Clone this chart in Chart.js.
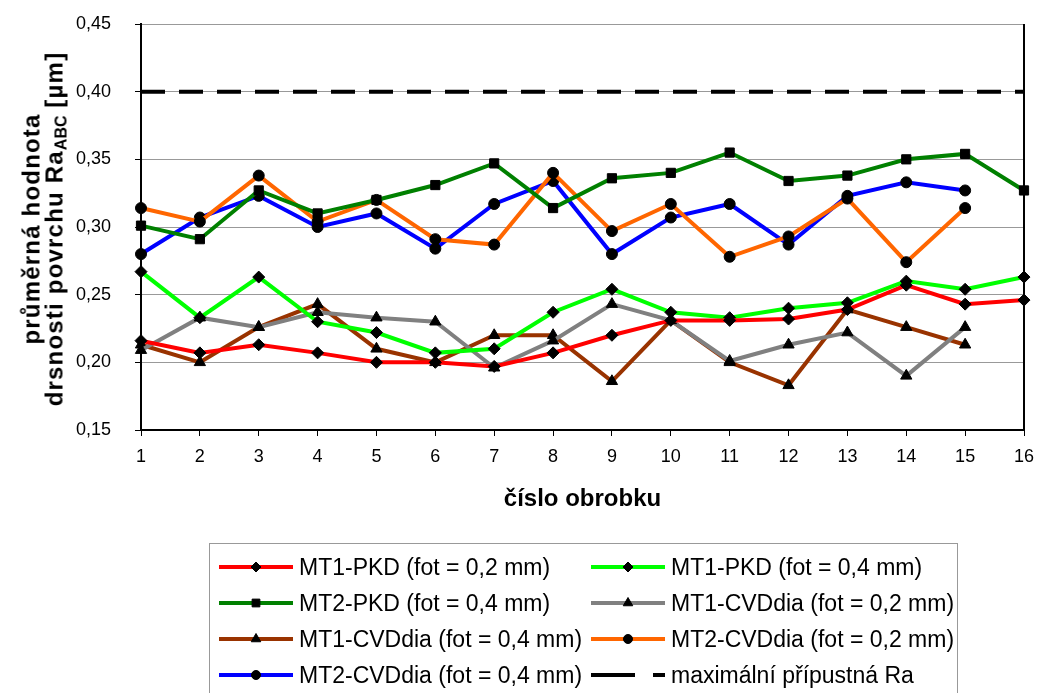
<!DOCTYPE html>
<html>
<head>
<meta charset="utf-8">
<script src="https://cdn.jsdelivr.net/npm/chart.js@4.4.1/dist/chart.umd.min.js"></script>
<style>
  html, body { margin: 0; padding: 0; background: #fff; }
  #wrap { position: relative; width: 1041px; height: 693px; overflow: hidden; font-family: "Liberation Sans", Arial, sans-serif; }
  #chart { position: absolute; left: 0; top: 0; }
  #ytitle {
    position: absolute; left: 46px; top: 229px; width: 480px;
    transform: translate(-50%, -50%) rotate(-90deg);
    text-align: center; font-weight: bold; font-size: 24px; line-height: 23px;
    letter-spacing: 1.2px; color: #000;
  }
  #ytitle sub { font-size: 16px; vertical-align: -4px; letter-spacing: 0; }
  #legend {
    position: absolute; left: 209px; top: 543px; width: 749px; height: 152px;
    border: 1px solid #999; box-sizing: border-box; padding: 5px 0 0 8px;
    display: grid; grid-template-columns: 372px 372px; grid-auto-rows: 36px;
  }
  .item { display: flex; align-items: center; font-size: 23px; color: #000; white-space: nowrap; }
  .item canvas { margin-right: 5px; }
</style>
</head>
<body>
<div id="wrap">
  <canvas id="chart" width="1041" height="693"></canvas>
  <div id="ytitle">průměrná hodnota<br>drsnosti povrchu Ra<sub>ABC</sub> [µm]</div>
  <div id="legend"></div>
</div>
<script>
const labels = ["1", "2", "3", "4", "5", "6", "7", "8", "9", "10", "11", "12", "13", "14", "15", "16"];
const yTicks = [0.15, 0.20, 0.25, 0.30, 0.35, 0.40, 0.45];

const mt1Pkd02 = [0.216, 0.207, 0.213, 0.207, 0.200, 0.200, 0.197, 0.207, 0.220, 0.231, 0.231, 0.232, 0.239, 0.257, 0.243, 0.246];
const mt1Pkd04 = [0.267, 0.233, 0.263, 0.230, 0.222, 0.207, 0.210, 0.237, 0.254, 0.237, 0.233, 0.240, 0.244, 0.260, 0.254, 0.263];
const mt2Pkd04 = [0.301, 0.291, 0.327, 0.310, 0.320, 0.331, 0.347, 0.314, 0.336, 0.340, 0.355, 0.334, 0.338, 0.350, 0.354, 0.327];
const mt1Cvd02 = [0.209, 0.233, 0.226, 0.237, 0.233, 0.230, 0.196, 0.216, 0.243, 0.231, 0.201, 0.213, 0.222, 0.190, 0.226, null];
const mt1Cvd04 = [0.213, 0.200, 0.226, 0.243, 0.210, 0.200, 0.220, 0.220, 0.186, 0.231, 0.200, 0.183, 0.239, 0.226, 0.213, null];
const mt2Cvd02 = [0.314, 0.304, 0.338, 0.304, 0.320, 0.291, 0.287, 0.340, 0.297, 0.317, 0.278, 0.293, 0.321, 0.274, 0.314, null];
const mt2Cvd04 = [0.280, 0.307, 0.323, 0.300, 0.310, 0.284, 0.317, 0.334, 0.280, 0.307, 0.317, 0.287, 0.323, 0.333, 0.327, null];
const maxRa = [0.40, 0.40, 0.40, 0.40, 0.40, 0.40, 0.40, 0.40, 0.40, 0.40, 0.40, 0.40, 0.40, 0.40, 0.40, 0.40];

const FONT = "'Liberation Sans', Arial, sans-serif";
Chart.defaults.font.family = FONT;
Chart.defaults.font.size = 18;
Chart.defaults.color = "#000";

function series(label, data, color, style, radius) {
  return {
    label: label,
    data: data,
    borderColor: color,
    backgroundColor: color,
    borderWidth: 4,
    pointStyle: style,
    pointRadius: radius,
    pointBackgroundColor: "#000",
    pointBorderColor: "#000",
    pointBorderWidth: 1,
    tension: 0,
    spanGaps: false
  };
}

const datasets = [
  series("MT1-PKD (fot = 0,2 mm)", mt1Pkd02, "#ff0000", "rectRot", 6),
  series("MT1-PKD (fot = 0,4 mm)", mt1Pkd04, "#00ff00", "rectRot", 6),
  series("MT2-PKD (fot = 0,4 mm)", mt2Pkd04, "#008000", "rect", 6.5),
  series("MT1-CVDdia (fot = 0,2 mm)", mt1Cvd02, "#808080", "triangle", 6.5),
  series("MT1-CVDdia (fot = 0,4 mm)", mt1Cvd04, "#993300", "triangle", 6.5),
  series("MT2-CVDdia (fot = 0,2 mm)", mt2Cvd02, "#ff6600", "circle", 5.5),
  series("MT2-CVDdia (fot = 0,4 mm)", mt2Cvd04, "#0000ff", "circle", 5.5),
  {
    label: "maximální přípustná Ra",
    data: maxRa,
    borderColor: "#000",
    backgroundColor: "#000",
    borderWidth: 4,
    borderDash: [24, 14],
    pointRadius: 0,
    pointStyle: false,
    tension: 0
  }
];

// right edge of the plot area
const frameRight = {
  id: "frameRight",
  afterDraw(chart) {
    const { ctx, chartArea } = chart;
    ctx.save();
    ctx.strokeStyle = "#000";
    ctx.lineWidth = 2;
    ctx.beginPath();
    ctx.moveTo(chartArea.right, chartArea.top);
    ctx.lineTo(chartArea.right, chartArea.bottom);
    ctx.stroke();
    ctx.restore();
  }
};

const chart = new Chart(document.getElementById("chart").getContext("2d"), {
  type: "line",
  data: { labels: labels, datasets: datasets },
  options: {
    responsive: false,
    animation: false,
    layout: { padding: { left: 0, top: 24, right: 17, bottom: 179 } },
    plugins: {
      legend: { display: false },
      tooltip: { enabled: false }
    },
    scales: {
      x: {
        type: "category",
        offset: false,
        grid: { drawOnChartArea: false, tickColor: "#000", tickLength: 6 },
        border: { color: "#000", width: 2 },
        ticks: { padding: 10, maxRotation: 0, font: { size: 18 } },
        title: {
          display: true,
          text: "číslo obrobku",
          font: { size: 24, weight: "bold" },
          padding: { top: 0, bottom: 0 }
        },
        afterFit(scale) {
          scale.height = 84;
          scale.paddingLeft = 0;
          scale.paddingRight = 0;
        }
      },
      y: {
        min: 0.15,
        max: 0.45,
        afterBuildTicks(scale) { scale.ticks = yTicks.map(v => ({ value: v })); },
        grid: { color: "#999", lineWidth: 1, tickColor: "#000", tickLength: 6 },
        border: { color: "#000", width: 2 },
        ticks: {
          padding: 24,
          font: { size: 18 },
          callback: v => v.toFixed(2).replace(".", ",")
        },
        afterFit(scale) {
          scale.width = 141;
          scale.paddingTop = 0;
          scale.paddingBottom = 0;
        }
      }
    }
  },
  plugins: [frameRight]
});

// legend in a bordered box, two columns
const legendBox = document.getElementById("legend");
datasets.forEach(ds => {
  const item = document.createElement("div");
  item.className = "item";
  const c = document.createElement("canvas");
  c.width = 76;
  c.height = 20;
  const g = c.getContext("2d");
  g.strokeStyle = ds.borderColor;
  g.lineWidth = ds.borderWidth;
  if (ds.borderDash) g.setLineDash([44, 18]);
  g.beginPath();
  g.moveTo(1, 10);
  g.lineTo(75, 10);
  g.stroke();
  g.setLineDash([]);
  if (ds.pointRadius) {
    g.fillStyle = "#000";
    g.strokeStyle = "#000";
    g.lineWidth = 1;
    Chart.helpers.drawPoint(g, {
      pointStyle: ds.pointStyle,
      radius: ds.pointRadius - 1,
      rotation: 0,
      borderWidth: 1
    }, 38, 10);
  }
  item.appendChild(c);
  const span = document.createElement("span");
  span.textContent = ds.label;
  item.appendChild(span);
  legendBox.appendChild(item);
});
</script>
</body>
</html>
